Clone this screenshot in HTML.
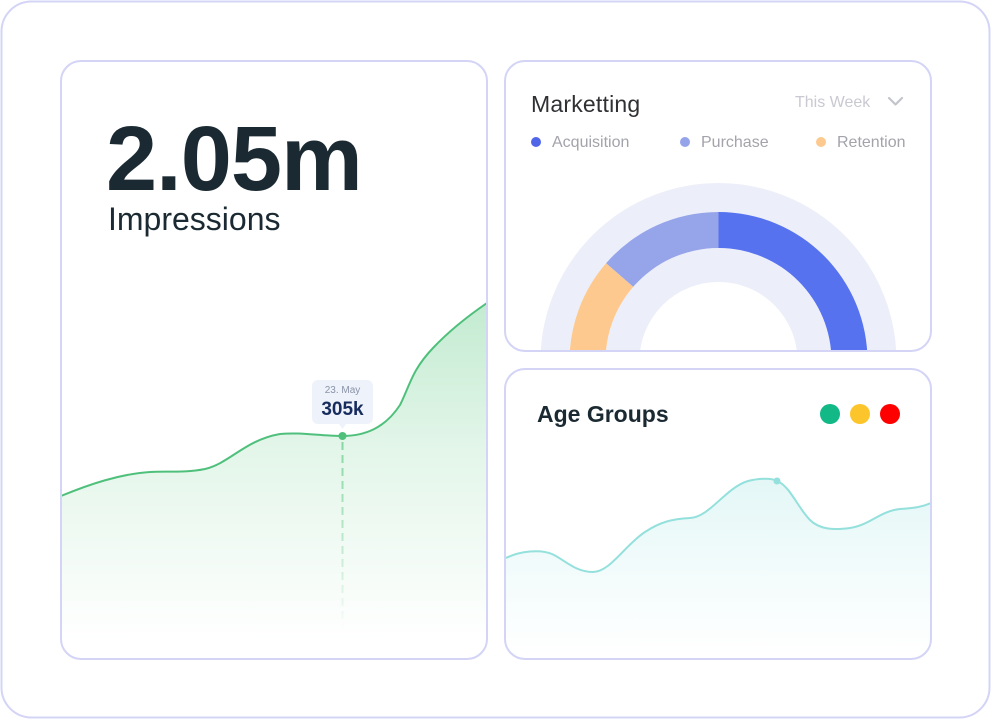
<!DOCTYPE html>
<html>
<head>
<meta charset="utf-8">
<style>
  html,body{margin:0;padding:0;background:#fff;}
  body{width:992px;height:720px;overflow:hidden;}
  svg{display:block;}
  text{font-family:"Liberation Sans", sans-serif;}
</style>
</head>
<body>
<svg width="992" height="720" viewBox="0 0 992 720" xmlns="http://www.w3.org/2000/svg">
  <defs>
    <linearGradient id="gFill" x1="0" y1="303" x2="0" y2="640" gradientUnits="userSpaceOnUse">
      <stop offset="0" stop-color="#c3ebd1"/>
      <stop offset="0.45" stop-color="#e4f6ea"/>
      <stop offset="1" stop-color="#ffffff"/>
    </linearGradient>
    <linearGradient id="tFill" x1="0" y1="478" x2="0" y2="655" gradientUnits="userSpaceOnUse">
      <stop offset="0" stop-color="#e3f7f6"/>
      <stop offset="0.5" stop-color="#f2fbfb"/>
      <stop offset="1" stop-color="#ffffff"/>
    </linearGradient>
    <linearGradient id="dashG" x1="0" y1="440" x2="0" y2="632" gradientUnits="userSpaceOnUse">
      <stop offset="0" stop-color="#86d6a3"/>
      <stop offset="1" stop-color="#86d6a3" stop-opacity="0"/>
    </linearGradient>
    <clipPath id="cLeft"><rect x="62" y="62" width="424" height="596" rx="19"/></clipPath>
    <clipPath id="cTR"><rect x="506" y="62" width="424" height="288" rx="19"/></clipPath>
    <clipPath id="cBR"><rect x="506" y="370" width="424" height="288" rx="19"/></clipPath>
  </defs>

  <!-- outer frame -->
  <rect x="1.5" y="1.5" width="988" height="716" rx="30" fill="#ffffff" stroke="#d3d4f6" stroke-width="2"/>

  <!-- LEFT CARD -->
  <rect x="61" y="61" width="426" height="598" rx="20" fill="#fff"/>
  <g clip-path="url(#cLeft)">
    <path d="M61,496 C90,484 120,474 150,472 C165,471 185,473 205,469 C230,463 245,440 280,434 C300,432 320,436 342,436 C365,436 385,428 400,405 C410,385 412,370 433,348 C450,330 468,316 487,303 L487,659 L61,659 Z" fill="url(#gFill)"/>
    <path d="M61,496 C90,484 120,474 150,472 C165,471 185,473 205,469 C230,463 245,440 280,434 C300,432 320,436 342,436 C365,436 385,428 400,405 C410,385 412,370 433,348 C450,330 468,316 487,303" fill="none" stroke="#4fc07c" stroke-width="2"/>
    <line x1="342.5" y1="442" x2="342.5" y2="632" stroke="url(#dashG)" stroke-width="2" stroke-dasharray="8 5"/>
  </g>
  <rect x="61" y="61" width="426" height="598" rx="20" fill="none" stroke="#d3d4f6" stroke-width="2"/>

  <text x="106" y="190" font-size="92" font-weight="bold" fill="#1b2a32" letter-spacing="-1">2.05m</text>
  <text x="108" y="230" font-size="32" fill="#1b2a32">Impressions</text>

  <!-- tooltip -->
  <rect x="312" y="380" width="61" height="44" rx="6" fill="#eef2fa"/>
  <path d="M339,424 L342.5,429 L346,424 Z" fill="#eef2fa"/>
  <text x="342.5" y="393" font-size="10" fill="#8a93a8" text-anchor="middle">23. May</text>
  <text x="342.5" y="415" font-size="19" font-weight="bold" fill="#172b5e" text-anchor="middle">305k</text>
  <circle cx="342.5" cy="436" r="4" fill="#4fc07c"/>

  <!-- TOP RIGHT CARD -->
  <rect x="505" y="61" width="426" height="290" rx="20" fill="#fff"/>
  <g clip-path="url(#cTR)">
    <circle cx="718.5" cy="361" r="163.5" fill="none" stroke="#eceff9" stroke-width="29"/>
    <circle cx="718.5" cy="361" r="96" fill="none" stroke="#eceff9" stroke-width="34"/>
    <path d="M718.5,212 A149,149 0 0 1 867.5,361 L831.5,361 A113,113 0 0 0 718.5,248 Z" fill="#5672ef"/>
    <path d="M718.5,212 A149,149 0 0 0 606.05,263.25 L633.22,286.86 A113,113 0 0 1 718.5,248 Z" fill="#96a4ea"/>
    <path d="M606.05,263.25 A149,149 0 0 0 569.5,361 L605.5,361 A113,113 0 0 1 633.22,286.86 Z" fill="#fdc98f"/>
  </g>
  <rect x="505" y="61" width="426" height="290" rx="20" fill="none" stroke="#d3d4f6" stroke-width="2"/>

  <text x="531" y="112" font-size="23" fill="#2f3033" letter-spacing="0.2">Marketting</text>
  <text x="795" y="107" font-size="16" fill="#c9c9d1">This Week</text>
  <path d="M889,98 L895.5,104.5 L902,98" fill="none" stroke="#c4c4cd" stroke-width="2.2" stroke-linecap="round" stroke-linejoin="round"/>

  <circle cx="536" cy="142" r="5" fill="#5066e8"/>
  <text x="552" y="147" font-size="16" fill="#a3a3ab">Acquisition</text>
  <circle cx="685" cy="142" r="5" fill="#95a3ea"/>
  <text x="701" y="147" font-size="16" fill="#a3a3ab">Purchase</text>
  <circle cx="821" cy="142" r="5" fill="#fdc98f"/>
  <text x="837" y="147" font-size="16" fill="#a3a3ab">Retention</text>

  <!-- BOTTOM RIGHT CARD -->
  <rect x="505" y="369" width="426" height="290" rx="20" fill="#fff"/>
  <g clip-path="url(#cBR)">
    <path d="M506,558 C520,551 540,549 552,554 C565,560 575,572 593,572 C610,572 625,545 645,532 C660,522 672,519 690,518 C710,517 725,488 748,481 C760,478 772,478 777,481 C790,486 798,508 810,520 C820,530 835,530 850,528 C870,525 880,511 900,509 C915,508 922,507 931,503 L931,659 L506,659 Z" fill="url(#tFill)"/>
    <path d="M506,558 C520,551 540,549 552,554 C565,560 575,572 593,572 C610,572 625,545 645,532 C660,522 672,519 690,518 C710,517 725,488 748,481 C760,478 772,478 777,481 C790,486 798,508 810,520 C820,530 835,530 850,528 C870,525 880,511 900,509 C915,508 922,507 931,503" fill="none" stroke="#93e0dc" stroke-width="2"/>
    <circle cx="777" cy="481" r="3.5" fill="#93e0dc"/>
  </g>
  <rect x="505" y="369" width="426" height="290" rx="20" fill="none" stroke="#d3d4f6" stroke-width="2"/>

  <text x="537" y="422" font-size="23" font-weight="bold" fill="#1b2a32">Age Groups</text>
  <circle cx="830" cy="414" r="10" fill="#12b886"/>
  <circle cx="860" cy="414" r="10" fill="#fdc52c"/>
  <circle cx="890" cy="414" r="10" fill="#ff0000"/>
</svg>
</body>
</html>
